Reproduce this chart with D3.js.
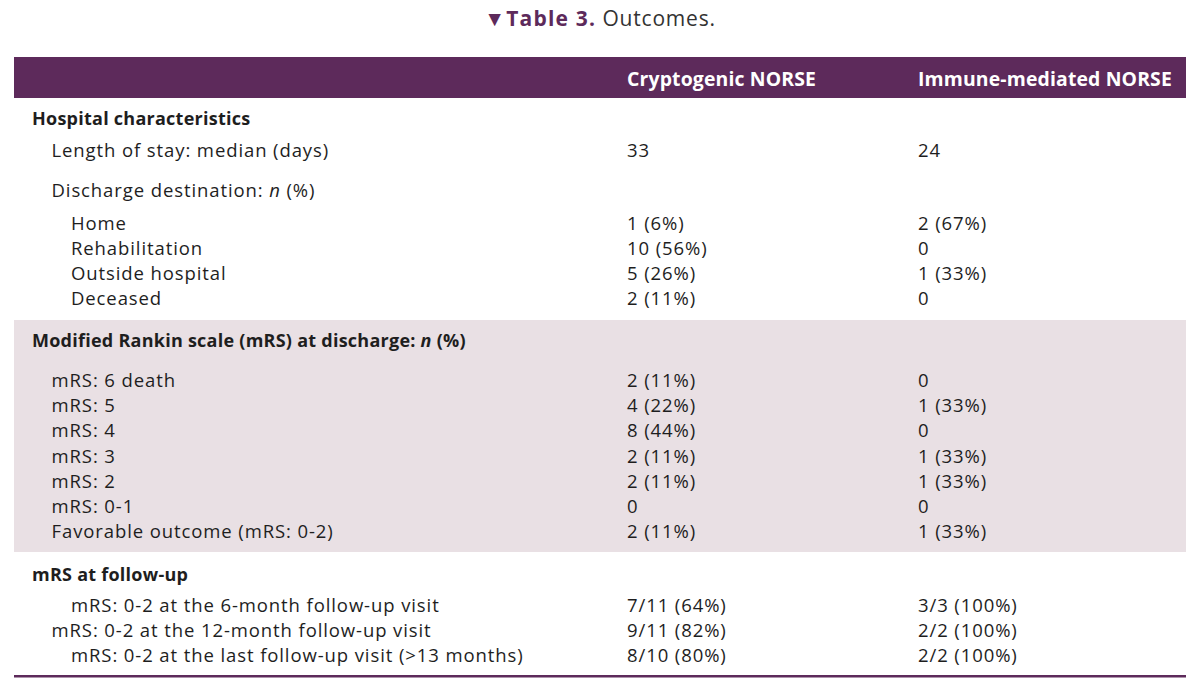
<!DOCTYPE html>
<html>
<head>
<meta charset="utf-8">
<script src="https://cdn.jsdelivr.net/npm/d3@7"></script>
<style>
  body { margin: 0; background: #fff; }
  svg { display: block; }
  text { font-family: "Open Sans", "Noto Sans", sans-serif; }
</style>
</head>
<body>
<svg id="chart" width="1200" height="684"></svg>
<script>
// table content
const columnHeads = ["Cryptogenic NORSE", "Immune-mediated NORSE"];

const sectionTitles = ["Hospital characteristics",
                       "Modified Rankin scale (mRS) at discharge: n (%)",
                       "mRS at follow-up"];

const hospitalLabels = ["Length of stay: median (days)", "Discharge destination: n (%)",
                        "Home", "Rehabilitation", "Outside hospital", "Deceased"];
const hospitalLevels = [1, 1, 2, 2, 2, 2];
const hospitalCrypto = ["33", "", "1 (6%)", "10 (56%)", "5 (26%)", "2 (11%)"];
const hospitalImmune = ["24", "", "2 (67%)", "0", "1 (33%)", "0"];

const mrsLabels = ["mRS: 6 death", "mRS: 5", "mRS: 4", "mRS: 3", "mRS: 2", "mRS: 0-1",
                   "Favorable outcome (mRS: 0-2)"];
const mrsLevels = [1, 1, 1, 1, 1, 1, 1];
const mrsCrypto = ["2 (11%)", "4 (22%)", "8 (44%)", "2 (11%)", "2 (11%)", "0", "2 (11%)"];
const mrsImmune = ["0", "1 (33%)", "0", "1 (33%)", "1 (33%)", "0", "1 (33%)"];

const followLabels = ["mRS: 0-2 at the 6-month follow-up visit",
                      "mRS: 0-2 at the 12-month follow-up visit",
                      "mRS: 0-2 at the last follow-up visit (>13 months)"];
const followLevels = [2, 1, 2];
const followCrypto = ["7/11 (64%)", "9/11 (82%)", "8/10 (80%)"];
const followImmune = ["3/3 (100%)", "2/2 (100%)", "2/2 (100%)"];

const purple = "#5d2a5b";
const shade = "#e9e0e4";
const ink = "#1e1e1e";

const svg = d3.select("#chart");

// title
const title = svg.append("text")
    .attr("x", 600).attr("y", 26)
    .attr("text-anchor", "middle")
    .attr("font-size", 21);
title.append("tspan").attr("fill", purple).attr("font-weight", "bold").attr("letter-spacing", 1.2).text("\u25BCTable 3.");
title.append("tspan").attr("fill", "#333").attr("letter-spacing", 0.8).text(" Outcomes.");

// columns
const colX = d3.scaleOrdinal().domain(["label", "crypto", "immune"]).range([32, 627, 918]);
const indent = d3.scaleLinear().domain([0, 2]).range([32, 71]);

// header bar
svg.append("rect").attr("x", 14).attr("y", 57).attr("width", 1172).attr("height", 41).attr("fill", purple);
svg.selectAll("text.head").data(columnHeads).join("text")
    .attr("class", "head")
    .attr("x", (d, i) => colX(i ? "immune" : "crypto"))
    .attr("y", 85.5)
    .attr("fill", "#fff")
    .attr("font-weight", "bold")
    .attr("font-size", 19.4)
    .attr("letter-spacing", 0.15)
    .text(d => d);

// sections: band top/bottom and the baselines of heading + rows
const sections = [
  { title: sectionTitles[0], labels: hospitalLabels, levels: hospitalLevels, a: hospitalCrypto, b: hospitalImmune,
    top: 98, bottom: 320, fill: "#fff", head: 125, rows: [157, 197, 230, 255, 280, 305] },
  { title: sectionTitles[1], labels: mrsLabels, levels: mrsLevels, a: mrsCrypto, b: mrsImmune,
    top: 320, bottom: 552, fill: shade, head: 347, rows: d3.range(7).map(i => 387 + i * 25.2) },
  { title: sectionTitles[2], labels: followLabels, levels: followLevels, a: followCrypto, b: followImmune,
    top: 552, bottom: 675, fill: "#fff", head: 581, rows: [612, 637, 662] }
];

// writes a label, setting any " n " in italics
function richText(sel, str) {
  const p = str.split(": n ");
  sel.append("tspan").text(p[0] + (p.length > 1 ? ": " : ""));
  if (p.length > 1) {
    sel.append("tspan").attr("font-style", "italic").text("n");
    sel.append("tspan").text(" " + p[1]);
  }
}

const bodySize = 18.5;
const bodySpacing = 0.9;

sections.forEach(s => {
  const g = svg.append("g");
  g.append("rect").attr("x", 14).attr("y", s.top).attr("width", 1172)
      .attr("height", s.bottom - s.top).attr("fill", s.fill);

  const h = g.append("text").attr("x", colX("label")).attr("y", s.head)
      .attr("font-weight", "bold").attr("font-size", 18).attr("letter-spacing", 0.25).attr("fill", ink);
  richText(h, s.title);

  const rows = s.labels.map((l, i) => ({ label: l, level: s.levels[i], a: s.a[i], b: s.b[i], y: s.rows[i] }));

  rows.forEach(r => {
    const t = g.append("text").attr("x", indent(r.level)).attr("y", r.y)
        .attr("font-size", bodySize).attr("letter-spacing", bodySpacing).attr("fill", ink);
    richText(t, r.label);
  });

  g.selectAll("text.a").data(rows).join("text").attr("class", "a")
      .attr("x", colX("crypto")).attr("y", d => d.y)
      .attr("font-size", bodySize).attr("letter-spacing", bodySpacing).attr("fill", ink).text(d => d.a);
  g.selectAll("text.b").data(rows).join("text").attr("class", "b")
      .attr("x", colX("immune")).attr("y", d => d.y)
      .attr("font-size", bodySize).attr("letter-spacing", bodySpacing).attr("fill", ink).text(d => d.b);
});

// bottom rule
svg.append("rect").attr("x", 14).attr("y", 675).attr("width", 1172).attr("height", 2.5).attr("fill", purple);
</script>
</body>
</html>
